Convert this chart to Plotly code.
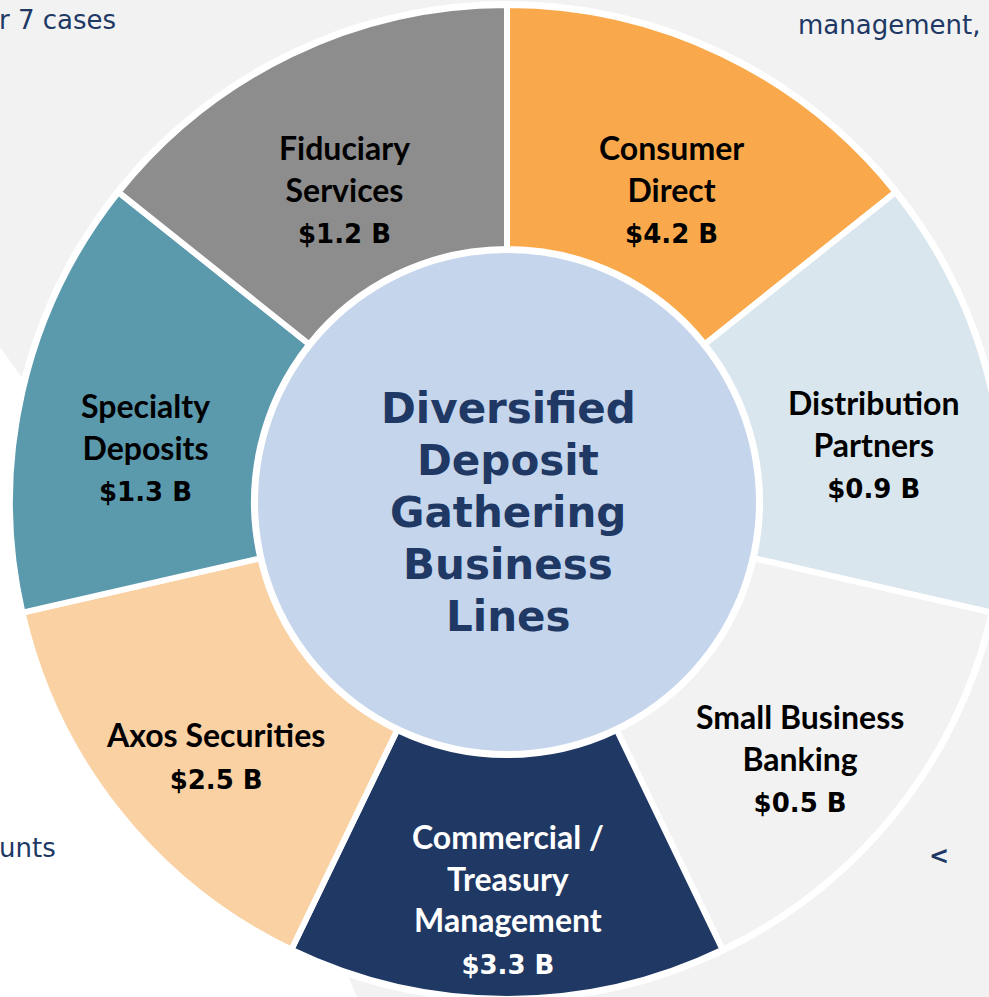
import plotly.graph_objects as go

# ---- data ----
categories = ["Consumer<br>Direct", "Distribution<br>Partners", "Small Business<br>Banking",
              "Commercial /<br>Treasury<br>Management", "Axos Securities",
              "Specialty<br>Deposits", "Fiduciary<br>Services"]
deposits_bn = [4.2, 0.9, 0.5, 3.3, 2.5, 1.3, 1.2]
slice_weights = [1, 1, 1, 1, 1, 1, 1]  # all segments drawn the same size
center_lines = ["Diversified", "Deposit", "Gathering", "Business", "Lines"]

# ---- style ----
slice_colors = ["#F9A94B", "#DAE6ED", "#F2F2F2", "#203864", "#FAD1A3", "#5B99AD", "#8D8D8D"]
label_colors = ["#000000", "#000000", "#000000", "#FFFFFF", "#000000", "#000000", "#000000"]
# label block centres in pixel space
label_pos = [(671, 188), (873, 443), (800, 757), (508, 898), (215, 755), (145, 446), (344, 188)]

W, H = 1014, 1004
CX, CY = 507, 502
R_OUT, R_IN = 497, 253

fig = go.Figure()
fig.add_trace(go.Pie(
    labels=[c.replace("<br>", " ") for c in categories],
    values=slice_weights,
    sort=False,
    direction="clockwise",
    rotation=0,
    hole=R_IN / R_OUT,
    marker=dict(colors=slice_colors, line=dict(color="#FFFFFF", width=6)),
    textinfo="none",
    hoverinfo="skip",
    showlegend=False,
    domain=dict(x=[0, 1], y=[(H / 2 - R_OUT) / H, (H / 2 + R_OUT) / H]),
))

annotations = []
for cat, val, (px, py), col in zip(categories, deposits_bn, label_pos, label_colors):
    annotations.append(dict(
        x=px, y=py, xref="x", yref="y", showarrow=False,
        xanchor="center", yanchor="middle", align="center",
        text=f"{cat}<br><span style=\"font-family:DejaVu Sans;font-size:26px\">${val} B</span>",
        font=dict(family="Lato", size=32, color=col, weight="bold"),
    ))
for i, line in enumerate(center_lines):
    annotations.append(dict(
        x=508, y=408 + 52 * i, xref="x", yref="y", showarrow=False,
        xanchor="center", yanchor="middle", text=line,
        font=dict(family="DejaVu Sans", size=42, color="#203864", weight="bold"),
    ))
# fragments of surrounding slide text
frag_font = dict(family="DejaVu Sans", size=26, color="#203864")
annotations += [
    dict(x=118, y=20, xref="x", yref="y", showarrow=False, xanchor="right", yanchor="middle",
         text="r 7 cases", font=frag_font),
    dict(x=796, y=25, xref="x", yref="y", showarrow=False, xanchor="left", yanchor="middle",
         text="management,", font=frag_font),
    dict(x=58, y=848, xref="x", yref="y", showarrow=False, xanchor="right", yanchor="middle",
         text="unts", font=frag_font),
    dict(x=939, y=856, xref="x", yref="y", showarrow=False, xanchor="center", yanchor="middle",
         text="<", font=dict(family="DejaVu Sans", size=24, color="#203864", weight="bold")),
]

shapes = [
    dict(type="path", xref="x", yref="y", layer="below",
         path=f"M 0 347 Q 200 620 360 {H} L 0 {H} Z",
         fillcolor="#FFFFFF", line=dict(width=0)),
    dict(type="circle", xref="x", yref="y", layer="below",
         x0=CX - 501, x1=CX + 501, y0=CY - 501, y1=CY + 501,
         fillcolor="#FFFFFF", line=dict(width=0)),
    dict(type="circle", xref="x", yref="y", layer="below",
         x0=CX - 249, x1=CX + 249, y0=CY - 249, y1=CY + 249,
         fillcolor="#C5D5EC", line=dict(width=0)),
]

fig.update_layout(
    width=W, height=H, margin=dict(l=0, r=0, t=0, b=0),
    paper_bgcolor="#F2F2F2", plot_bgcolor="rgba(0,0,0,0)",
    xaxis=dict(range=[0, W], visible=False, fixedrange=True),
    yaxis=dict(range=[H, 0], visible=False, fixedrange=True),
    annotations=annotations, shapes=shapes,
)
fig.write_html(
    "out.html",
    config={"displayModeBar": False},
    post_script="document.body.style.margin='0';document.body.style.overflow='hidden';"
                "document.documentElement.style.overflow='hidden';",
)
